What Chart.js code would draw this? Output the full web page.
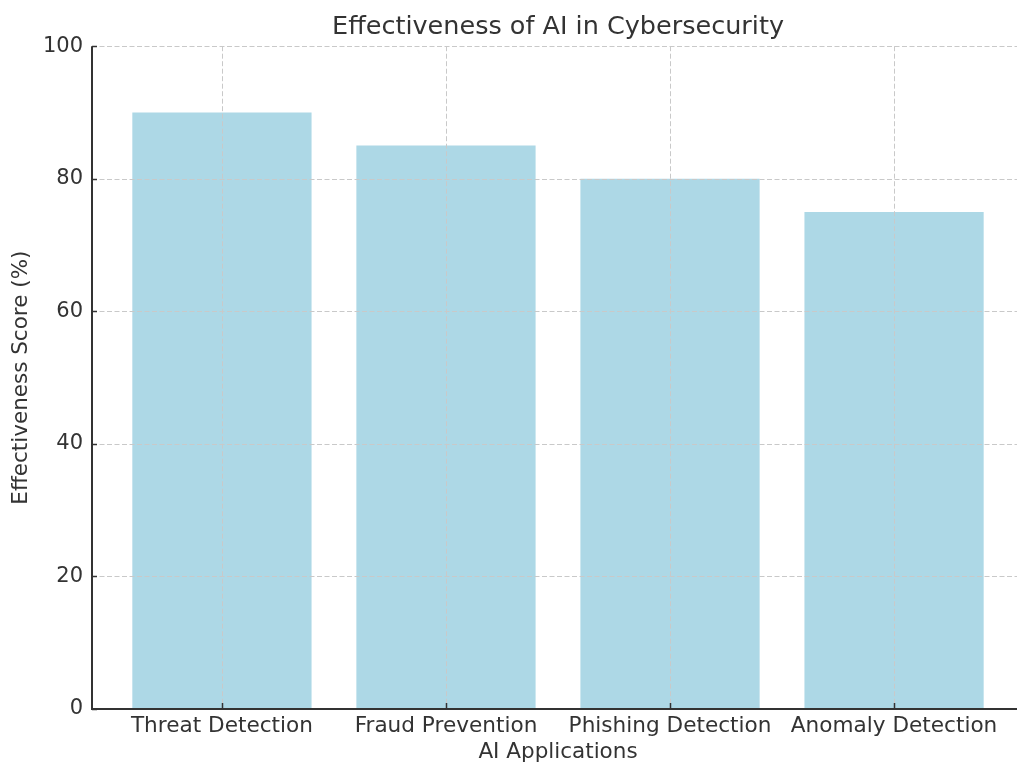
<!DOCTYPE html>
<html>
<head>
<meta charset="utf-8">
<title>Effectiveness of AI in Cybersecurity</title>
<script src="https://cdn.jsdelivr.net/npm/chart.js@4/dist/chart.umd.min.js"></script>
<style>
  html, body { margin: 0; padding: 0; background: #ffffff; overflow: hidden; }
  #wrap { width: 1017px; height: 765px; overflow: hidden; }
  canvas { display: block; }
</style>
</head>
<body>
<div id="wrap"><canvas id="chart" width="1040" height="765"></canvas></div>
<script>
// Chart data
const categories = ['Threat Detection', 'Fraud Prevention', 'Phishing Detection', 'Anomaly Detection'];
const scores = [90, 85, 80, 75];
const yTicks = [0, 20, 40, 60, 80, 100];

const FONT = "'DejaVu Sans', 'Liberation Sans', sans-serif";
const TEXT = '#333333';
const AXIS = '#333333';

// Dashed grid lines painted over the bars
const gridOverlay = {
  id: 'gridOverlay',
  afterDatasetsDraw(chart) {
    const { ctx, chartArea: a, scales: { x, y } } = chart;
    ctx.save();
    ctx.lineWidth = 1;
    ctx.strokeStyle = '#c9c9c9';
    ctx.setLineDash([5, 2.5]);
    yTicks.forEach(v => {
      if (v === 0) return;
      const py = Math.round(y.getPixelForValue(v)) + 0.5;
      ctx.beginPath(); ctx.moveTo(a.left, py); ctx.lineTo(a.right, py); ctx.stroke();
    });
    categories.forEach((_, i) => {
      const px = Math.round(x.getPixelForValue(i)) + 0.5;
      ctx.beginPath(); ctx.moveTo(px, a.top); ctx.lineTo(px, a.bottom); ctx.stroke();
    });
    ctx.restore();
  },
  // Left and bottom spines with inward tick marks
  afterDraw(chart) {
    const { ctx, chartArea: a, scales: { x, y } } = chart;
    ctx.save();
    ctx.setLineDash([]);
    ctx.strokeStyle = AXIS;
    ctx.lineWidth = 2;
    ctx.beginPath();
    ctx.moveTo(a.left, a.top);
    ctx.lineTo(a.left, a.bottom);
    ctx.lineTo(a.right, a.bottom);
    ctx.stroke();
    ctx.lineWidth = 1.5;
    yTicks.forEach(v => {
      const py = Math.round(y.getPixelForValue(v)) + 0.5;
      ctx.beginPath(); ctx.moveTo(a.left, py); ctx.lineTo(a.left + 5, py); ctx.stroke();
    });
    categories.forEach((_, i) => {
      const px = Math.round(x.getPixelForValue(i)) + 0.5;
      ctx.beginPath(); ctx.moveTo(px, a.bottom); ctx.lineTo(px, a.bottom - 6); ctx.stroke();
    });
    ctx.restore();
  }
};

new Chart(document.getElementById('chart'), {
  type: 'bar',
  data: {
    datasets: [{
      data: scores.map((v, i) => ({ x: i, y: v })),
      backgroundColor: '#ADD8E6',
      borderWidth: 0,
      barPercentage: 0.8,
      categoryPercentage: 1.0
    }]
  },
  options: {
    responsive: false,
    animation: false,
    events: [],
    layout: { padding: { left: 0, right: 16, top: 0, bottom: 0 } },
    plugins: {
      legend: { display: false },
      tooltip: { enabled: false },
      title: {
        display: true,
        fullSize: false,
        text: 'Effectiveness of AI in Cybersecurity',
        color: TEXT,
        font: { family: FONT, size: 25.5, weight: 'normal' },
        padding: { top: 12, bottom: 3.6 }
      }
    },
    scales: {
      x: {
        type: 'linear',
        offset: false,
        min: -0.58,
        max: 3.58,
        afterBuildTicks: s => { s.ticks = categories.map((_, i) => ({ value: i })); },
        afterFit: s => { s.height = 56; },
        grid: { display: false, drawTicks: false },
        border: { display: false },
        ticks: {
          color: TEXT,
          font: { family: FONT, size: 21.6 },
          padding: 4,
          autoSkip: false,
          maxRotation: 0,
          callback: v => categories[v]
        },
        title: {
          display: true,
          text: 'AI Applications',
          color: TEXT,
          font: { family: FONT, size: 21.5 },
          padding: { top: 0, bottom: 0 }
        }
      },
      y: {
        min: 0,
        max: 100,
        afterBuildTicks: s => { s.ticks = yTicks.map(v => ({ value: v })); },
        afterFit: s => { s.width = 92; },
        grid: { display: false, drawTicks: false },
        border: { display: false },
        ticks: {
          color: TEXT,
          font: { family: FONT, size: 21 },
          padding: 9
        },
        title: {
          display: true,
          text: 'Effectiveness Score (%)',
          color: TEXT,
          font: { family: FONT, size: 21.5 },
          padding: { top: 8.7, bottom: 0 }
        }
      }
    }
  },
  plugins: [gridOverlay]
});
</script>
</body>
</html>
